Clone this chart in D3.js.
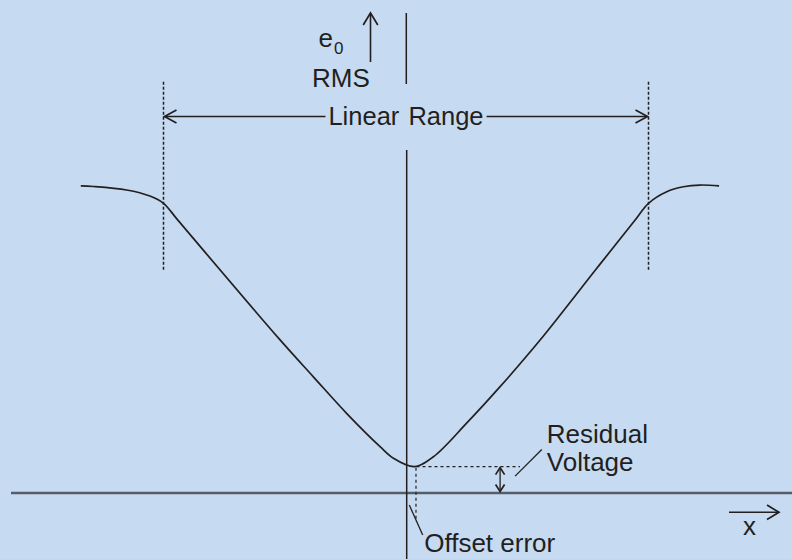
<!DOCTYPE html>
<html>
<head>
<meta charset="utf-8">
<script src="https://cdn.jsdelivr.net/npm/d3@7"></script>
<style>
  html, body { margin: 0; padding: 0; background: #c6dbf1; }
  svg { display: block; }
  text { font-family: "Liberation Sans", Arial, Helvetica, sans-serif; fill: #231f20; }
</style>
</head>
<body>
<div id="chart"></div>
<script>
// curve (x in arbitrary input units, y = e0 RMS)
const curveX = [-13.41, -12.89, -11.52, -10.56, -10.0, -9.4, -5.22, -3.82, -2.45, -1.07, -0.52, 0.35, 1.13, 2.50, 3.88, 5.53, 7.86, 9.4, 10.0, 10.75, 11.44, 12.12, 12.91];
const curveY = [10.60, 10.58, 10.46, 10.25, 10.0, 9.41, 5.31, 4.01, 2.75, 1.60, 1.20, 0.91, 1.25, 2.41, 3.67, 5.28, 7.75, 9.37, 10.0, 10.40, 10.57, 10.63, 10.60];

const linearRange = [-10, 10];
const linearRangeLevel = 13;
const rangeMarkerY = [7.7, 14.2];
const offsetError = 0.35;
const residualVoltage = 0.91;
const residualArrowX = 3.88;
const residualDotEnd = 4.7;

const width = 792, height = 559;

const svg = d3.select("#chart").append("svg")
    .attr("width", width)
    .attr("height", height);

svg.append("rect")
    .attr("width", width)
    .attr("height", height)
    .attr("fill", "#c6dbf1");

// scales
const xScale = d3.scaleLinear().domain([-10, 10]).range([163.5, 648.5]);
const yScale = d3.scaleLinear().domain([0, 10]).range([493, 203.3]);

const ink = "#231f20";

// arrowhead helper (open chevron)
function chevron(x, y, dir, len = 12, spread = 6.5) {
    let pts;
    if (dir === "left") pts = [[x + len, y - spread], [x, y], [x + len, y + spread]];
    if (dir === "right") pts = [[x - len, y - spread], [x, y], [x - len, y + spread]];
    if (dir === "up") pts = [[x - spread, y + len], [x, y], [x + spread, y + len]];
    if (dir === "down") pts = [[x - spread, y - len], [x, y], [x + spread, y - len]];
    svg.append("path")
        .attr("d", d3.line()(pts))
        .attr("fill", "none")
        .attr("stroke", ink)
        .attr("stroke-width", 1.7);
}

// horizontal axis
svg.append("line")
    .attr("x1", 11).attr("x2", width)
    .attr("y1", yScale(0)).attr("y2", yScale(0))
    .attr("stroke", "#565c68")
    .attr("stroke-width", 2.5);

// vertical axis (lower part)
const x0 = xScale(0) + 0.7;
svg.append("line")
    .attr("x1", x0).attr("x2", x0)
    .attr("y1", 150).attr("y2", height)
    .attr("stroke", ink)
    .attr("stroke-width", 1.5);

// vertical axis (upper stub)
svg.append("line")
    .attr("x1", x0 - 0.4).attr("x2", x0 - 0.4)
    .attr("y1", 13).attr("y2", 84)
    .attr("stroke", ink)
    .attr("stroke-width", 1.5);

// range markers (dotted verticals)
svg.selectAll(".range-marker")
    .data(linearRange)
    .enter()
    .append("line")
    .attr("class", "range-marker")
    .attr("x1", d => xScale(d)).attr("x2", d => xScale(d))
    .attr("y1", yScale(rangeMarkerY[1])).attr("y2", yScale(rangeMarkerY[0]))
    .attr("stroke", ink)
    .attr("stroke-width", 1.5)
    .attr("stroke-dasharray", "3,2");

// Linear Range arrow
const ly = yScale(linearRangeLevel);
const lrText = svg.append("text")
    .attr("x", xScale(0))
    .attr("y", ly + 8.5)
    .attr("text-anchor", "middle")
    .style("font-size", "25.5px")
    .style("word-spacing", "2px")
    .text("Linear Range");
const lrBox = lrText.node().getBBox();

svg.append("line")
    .attr("x1", xScale(linearRange[0]) + 1).attr("x2", lrBox.x - 3)
    .attr("y1", ly).attr("y2", ly)
    .attr("stroke", ink).attr("stroke-width", 1.5);
svg.append("line")
    .attr("x1", lrBox.x + lrBox.width + 3).attr("x2", xScale(linearRange[1]) - 1)
    .attr("y1", ly).attr("y2", ly)
    .attr("stroke", ink).attr("stroke-width", 1.5);
chevron(xScale(linearRange[0]) + 1, ly, "left");
chevron(xScale(linearRange[1]) - 1, ly, "right");

// the curve
const points = curveX.map((x, i) => ({ x, y: curveY[i] }));
const line = d3.line()
    .x(d => xScale(d.x))
    .y(d => yScale(d.y))
    .curve(d3.curveCatmullRom.alpha(0.5));

svg.append("path")
    .datum(points)
    .attr("d", line)
    .attr("fill", "none")
    .attr("stroke", ink)
    .attr("stroke-width", 1.7);

// residual voltage dotted level
svg.append("line")
    .attr("x1", xScale(offsetError) + 2).attr("x2", xScale(residualDotEnd))
    .attr("y1", yScale(residualVoltage)).attr("y2", yScale(residualVoltage))
    .attr("stroke", ink)
    .attr("stroke-width", 1.2)
    .attr("stroke-dasharray", "3,3");

// offset error dotted drop
svg.append("line")
    .attr("x1", xScale(offsetError) + 1.5).attr("x2", xScale(offsetError) + 1.5)
    .attr("y1", yScale(residualVoltage) + 1).attr("y2", yScale(0) + 29)
    .attr("stroke", ink)
    .attr("stroke-width", 1.2)
    .attr("stroke-dasharray", "3,3");

// residual double arrow
const rx = xScale(residualArrowX);
svg.append("line")
    .attr("x1", rx).attr("x2", rx)
    .attr("y1", yScale(residualVoltage) + 1).attr("y2", yScale(0) - 1.5)
    .attr("stroke", ink).attr("stroke-width", 1.3);
chevron(rx, yScale(residualVoltage) + 1, "up", 7, 4.5);
chevron(rx, yScale(0) - 1.5, "down", 7, 4.5);

// leader lines
svg.append("line")
    .attr("x1", rx + 15).attr("x2", rx + 41.7)
    .attr("y1", yScale(residualVoltage) + 9.5).attr("y2", yScale(residualVoltage) - 17.2)
    .attr("stroke", ink).attr("stroke-width", 1.3);

svg.append("line")
    .attr("x1", x0 + 2.6).attr("x2", x0 + 16)
    .attr("y1", yScale(0) + 12).attr("y2", yScale(0) + 42)
    .attr("stroke", ink).attr("stroke-width", 1.3);

// labels
svg.append("text")
    .attr("x", rx + 46.7).attr("y", 443)
    .style("font-size", "26px")
    .text("Residual");
svg.append("text")
    .attr("x", rx + 46.7).attr("y", 470.5)
    .style("font-size", "26px")
    .text("Voltage");

svg.append("text")
    .attr("x", x0 + 17.5).attr("y", 551.5)
    .style("font-size", "26px")
    .text("Offset error");

// e0 RMS label + arrow
svg.append("text")
    .attr("x", 318.5).attr("y", 46.7)
    .style("font-size", "26px")
    .text("e");
svg.append("text")
    .attr("x", 334).attr("y", 54)
    .style("font-size", "17px")
    .text("0");
svg.append("text")
    .attr("x", 312).attr("y", 87.3)
    .style("font-size", "26px")
    .text("RMS");

svg.append("line")
    .attr("x1", 370.5).attr("x2", 370.5)
    .attr("y1", 13).attr("y2", 62)
    .attr("stroke", ink).attr("stroke-width", 1.6);
chevron(370.5, 13, "up", 12, 7.3);

// x axis label + arrow
svg.append("line")
    .attr("x1", 729).attr("x2", 779)
    .attr("y1", 512.3).attr("y2", 512.3)
    .attr("stroke", ink).attr("stroke-width", 1.6);
chevron(779, 512.3, "right", 12, 7.2);
svg.append("text")
    .attr("x", 749.5).attr("y", 535)
    .attr("text-anchor", "middle")
    .style("font-size", "26px")
    .text("x");
</script>
</body>
</html>
